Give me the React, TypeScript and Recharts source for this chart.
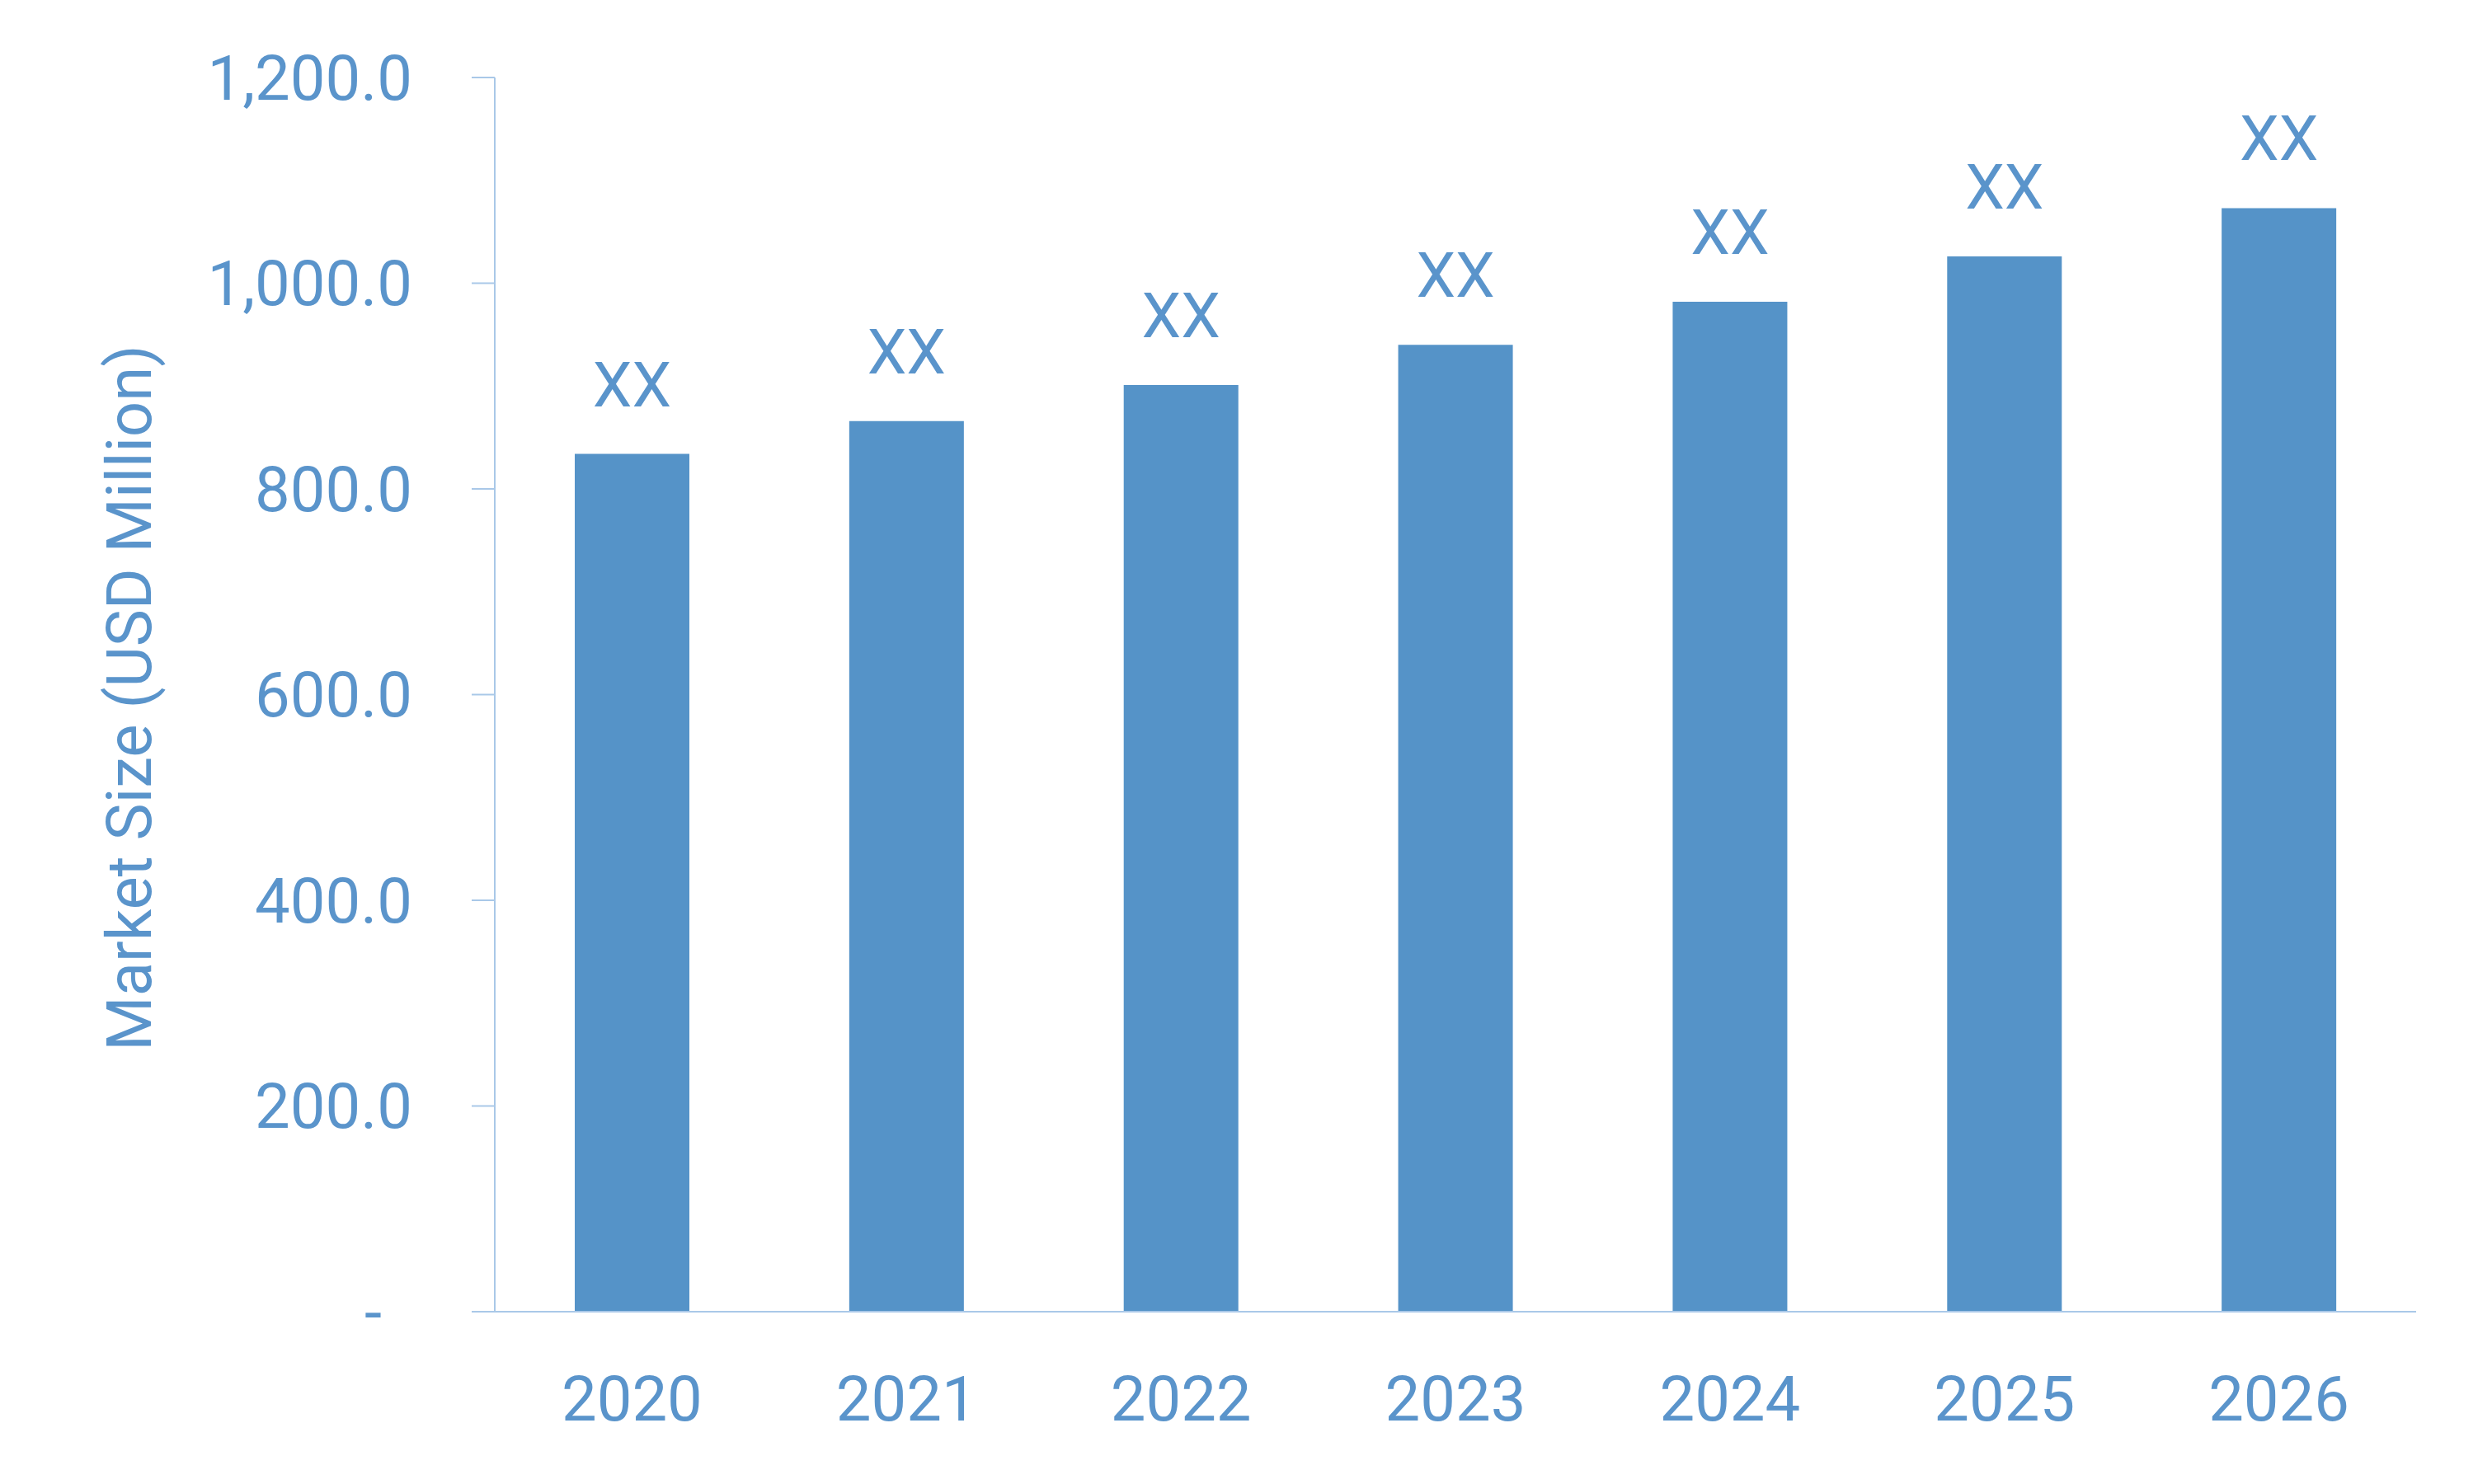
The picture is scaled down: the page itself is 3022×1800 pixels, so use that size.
import { Bar, BarChart, LabelList, XAxis, YAxis } from "recharts";

const years = ["2020", "2021", "2022", "2023", "2024", "2025", "2026"];
const marketSize = [834, 866, 901, 940, 982, 1026, 1073];
const barLabels = ["XX", "XX", "XX", "XX", "XX", "XX", "XX"];
const yTicks = [0, 200, 400, 600, 800, 1000, 1200];

const chartData = years.map((year, i) => ({
	year,
	value: marketSize[i],
	label: barLabels[i],
}));

const TEXT = "#5A94CB";
const BAR = "#5593C8";
const AXIS = "#A9C8E8";
const FONT = "Roboto, 'Noto Sans', sans-serif";
const FONT_SIZE = 76;

// 0 は会計表示のように「-」を少し左に置く
function formatTick(v: number): string {
	if (v === 0) return "-";
	return v.toLocaleString("en-US", {
		minimumFractionDigits: 1,
		maximumFractionDigits: 1,
	});
}

function YTick(props: any) {
	const { x, y, payload } = props;
	const isZero = payload.value === 0;
	return (
		<text
			x={isZero ? x - 37 : x}
			y={y}
			dy="0.355em"
			textAnchor="end"
			fill={TEXT}
			fontSize={FONT_SIZE}
			fontFamily={FONT}
		>
			{formatTick(payload.value)}
		</text>
	);
}

function YTitle(props: any) {
	const { viewBox } = props;
	const cy = viewBox.y + viewBox.height / 2 + 4;
	const cx = 175;
	return (
		<text
			x={cx}
			y={cy}
			transform={`rotate(-90 ${cx} ${cy})`}
			textAnchor="middle"
			fill={TEXT}
			fontSize={FONT_SIZE}
			fontFamily={FONT}
		>
			Market Size (USD Million)
		</text>
	);
}

export default function App() {
	return (
		<div style={{ width: 3006, height: 1780, background: "#fff" }}>
			<BarChart
				width={3006}
				height={1780}
				data={chartData}
				margin={{ top: 86, right: 84, left: 0, bottom: 0 }}
			>
				<XAxis
					dataKey="year"
					height={197}
					tickLine={false}
					tickSize={0}
					tickMargin={78}
					axisLine={{ stroke: AXIS, strokeWidth: 2 }}
					tick={{ fill: TEXT, fontSize: FONT_SIZE, fontFamily: FONT }}
				/>
				<YAxis
					width={592}
					domain={[0, 1200]}
					ticks={yTicks}
					interval={0}
					tickSize={28}
					tickMargin={72}
					axisLine={{ stroke: AXIS, strokeWidth: 2 }}
					tickLine={{ stroke: AXIS, strokeWidth: 2 }}
					tick={<YTick />}
					label={<YTitle />}
				/>
				<Bar
					dataKey="value"
					fill={BAR}
					barSize={139}
					isAnimationActive={false}
				>
					<LabelList
						dataKey="label"
						position="top"
						offset={58}
						fill={TEXT}
						fontSize={FONT_SIZE}
						fontFamily={FONT}
					/>
				</Bar>
			</BarChart>
		</div>
	);
}
